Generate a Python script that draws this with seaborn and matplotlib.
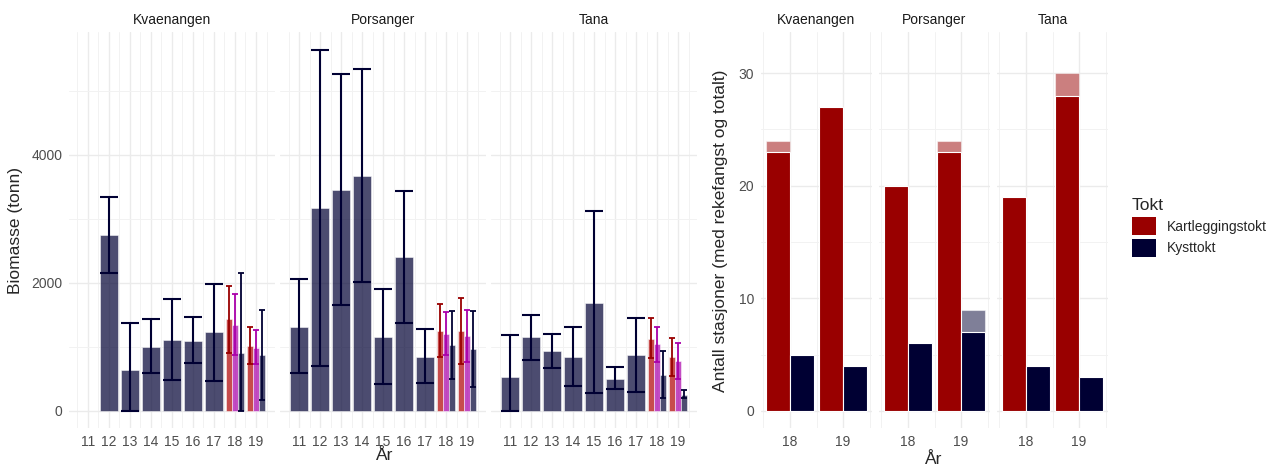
import numpy as np
import pandas as pd
import matplotlib.pyplot as plt
import seaborn as sns
from matplotlib.patches import Patch
from matplotlib.ticker import FixedLocator

sns.set_style("white")
plt.rcParams["font.family"] = ["Liberation Sans", "DejaVu Sans"]

areas = ["Kvaenangen", "Porsanger", "Tana"]
years = [11, 12, 13, 14, 15, 16, 17, 18, 19]

# Biomass, Kysttokt (one row per area, NaN = no survey)
kyst_bio = [[np.nan, 2750, 640, 1000, 1110, 1100, 1230, 910, 870],
            [1320, 3170, 3460, 3670, 1160, 2400, 850, 1030, 970],
            [530, 1150, 940, 850, 1690, 500, 870, 570, 250]]
kyst_lo = [[np.nan, 2150, 0, 590, 480, 750, 470, 0, 170],
           [600, 710, 1660, 2010, 420, 1380, 440, 500, 380],
           [0, 800, 670, 390, 280, 340, 300, 200, 200]]
kyst_hi = [[np.nan, 3350, 1370, 1430, 1750, 1470, 1980, 2160, 1580],
           [2060, 5640, 5270, 5340, 1900, 3440, 1280, 1570, 1570],
           [1180, 1500, 1210, 1320, 3120, 680, 1450, 940, 330]]

# Biomass 2018-2019, Kartleggingstokt (two estimates)
new_years = [18, 19]
kart_bio = [[1430, 1020], [1250, 1250], [1120, 840]]
kart_lo = [[910, 740], [850, 730], [830, 550]]
kart_hi = [[1950, 1310], [1670, 1770], [1450, 1140]]
kart2_bio = [[1340, 990], [1200, 1170], [1040, 780]]
kart2_lo = [[880, 740], [870, 770], [760, 500]]
kart2_hi = [[1830, 1260], [1540, 1580], [1310, 1060]]

# Number of stations (total and with shrimp catch)
kart_total = [[24, 27], [20, 24], [19, 30]]
kart_catch = [[23, 27], [20, 23], [19, 28]]
kyst_total = [[5, 4], [6, 9], [4, 3]]
kyst_catch = [[5, 4], [6, 7], [4, 3]]

RED = "#990000"
MAG = "#AA00AA"
NAVY = "#000033"

rows = []
for i, a in enumerate(areas):
    for j, y in enumerate(years):
        rows.append((a, y, "Kysttokt", kyst_bio[i][j], kyst_lo[i][j], kyst_hi[i][j]))
    for j, y in enumerate(new_years):
        rows.append((a, y, "Kartleggingstokt", kart_bio[i][j], kart_lo[i][j], kart_hi[i][j]))
        rows.append((a, y, "Kartlegging2", kart2_bio[i][j], kart2_lo[i][j], kart2_hi[i][j]))
bio = pd.DataFrame(rows, columns=["area", "year", "tokt", "biomasse", "lo", "hi"]).dropna()

st_rows = []
for i, a in enumerate(areas):
    for j, y in enumerate(new_years):
        st_rows.append((a, y, "Kartleggingstokt", kart_total[i][j], kart_catch[i][j]))
        st_rows.append((a, y, "Kysttokt", kyst_total[i][j], kyst_catch[i][j]))
st = pd.DataFrame(st_rows, columns=["area", "year", "tokt", "total", "catch"])

W, H = 1279, 468
fig = plt.figure(figsize=(W / 100, H / 100), dpi=100)
bot, hgt = 40 / H, 396 / H

hue3 = ["Kartleggingstokt", "Kartlegging2", "Kysttokt"]
pal3 = {"Kartleggingstokt": "#B00000", "Kartlegging2": MAG, "Kysttokt": NAVY}
ecol3 = {"Kartleggingstokt": RED, "Kartlegging2": MAG, "Kysttokt": NAVY}
offs3 = {"Kartleggingstokt": -0.3, "Kartlegging2": 0.0, "Kysttokt": 0.3}


def style_axis(ax, xlim, ylim, xmaj, xmin, ymaj, ymin, show_y):
    ax.set_xlim(*xlim)
    ax.set_ylim(*ylim)
    ax.xaxis.set_major_locator(FixedLocator(xmaj))
    ax.xaxis.set_minor_locator(FixedLocator(xmin))
    ax.yaxis.set_major_locator(FixedLocator(ymaj))
    ax.yaxis.set_minor_locator(FixedLocator(ymin))
    ax.set_xticklabels([str(v) for v in xmaj])
    if not show_y:
        ax.set_yticklabels([])
    ax.grid(which="major", color="#EBEBEB", linewidth=1.0)
    ax.grid(which="minor", color="#F2F2F2", linewidth=0.7)
    ax.set_axisbelow(True)
    for s in ax.spines.values():
        s.set_visible(False)
    ax.tick_params(which="both", length=0, labelsize=10, labelcolor="#4D4D4D", pad=5)
    ax.set_xlabel("")
    ax.set_ylabel("")


# Left: biomass per area
left_px = [69.1, 280.1, 491.1]
for i, a in enumerate(areas):
    ax = fig.add_axes([left_px[i] / W, bot, 205.8 / W, hgt])
    d = bio[bio.area == a]
    old = d[d.year <= 17]
    new = d[d.year >= 18]
    sns.barplot(data=old, x="year", y="biomasse", native_scale=True, width=0.9,
                color=NAVY, alpha=0.7, saturation=1, edgecolor="white",
                linewidth=0.5, errorbar=None, ax=ax)
    sns.barplot(data=new, x="year", y="biomasse", hue="tokt", hue_order=hue3,
                palette=pal3, native_scale=True, width=0.9, dodge=True, alpha=0.7,
                saturation=1, edgecolor="white", linewidth=0.5, errorbar=None,
                legend=False, ax=ax)
    ax.errorbar(old.year, old.biomasse,
                yerr=[old.biomasse - old.lo, old.hi - old.biomasse],
                fmt="none", ecolor=NAVY, elinewidth=1.5, capsize=6.8, capthick=1.5)
    for t in hue3:
        dt = new[new.tokt == t]
        ax.errorbar(dt.year + offs3[t], dt.biomasse,
                    yerr=[dt.biomasse - dt.lo, dt.hi - dt.biomasse],
                    fmt="none", ecolor=ecol3[t], elinewidth=1.3, capsize=2.4,
                    capthick=1.3)
    style_axis(ax, (10.1, 19.9), (-266, 5922), years, np.arange(10.5, 20, 1),
               [0, 2000, 4000], [1000, 3000, 5000], i == 0)
    fig.text((left_px[i] + 102.9) / W, 1 - 20 / H, a, ha="center", va="center",
             fontsize=10, color="#1A1A1A")

# Right: number of stations
right_px = [761.1, 879.1, 997.1]
pal2 = {"Kartleggingstokt": RED, "Kysttokt": NAVY}
for i, a in enumerate(areas):
    ax = fig.add_axes([right_px[i] / W, bot, 110.8 / W, hgt])
    d = st[st.area == a]
    sns.barplot(data=d, x="year", y="total", hue="tokt",
                hue_order=["Kartleggingstokt", "Kysttokt"], palette=pal2,
                native_scale=True, width=0.9, dodge=True, alpha=0.5, saturation=1,
                edgecolor="white", linewidth=0.8, errorbar=None, legend=False, ax=ax)
    sns.barplot(data=d, x="year", y="catch", hue="tokt",
                hue_order=["Kartleggingstokt", "Kysttokt"], palette=pal2,
                native_scale=True, width=0.9, dodge=True, saturation=1,
                edgecolor="white", linewidth=0.8, errorbar=None, legend=False, ax=ax)
    style_axis(ax, (17.455, 19.545), (-1.51, 33.64), new_years, [17.5, 18.5, 19.5],
               [0, 10, 20, 30], [5, 15, 25], i == 0)
    fig.text((right_px[i] + 55.4) / W, 1 - 20 / H, a, ha="center", va="center",
             fontsize=10, color="#1A1A1A")

fig.text(16 / W, 1 - 230 / H, "Biomasse (tonn)", rotation=90, ha="center",
         va="center", fontsize=12.5)
fig.text(721 / W, 1 - 231 / H, "Antall stasjoner (med rekefangst og totalt)",
         rotation=90, ha="center", va="center", fontsize=12.5)
fig.text(385 / W, 1 - 456 / H, "År", ha="center", va="center", fontsize=12.5)
fig.text(934 / W, 1 - 460 / H, "År", ha="center", va="center", fontsize=12.5)

handles = [Patch(facecolor=RED, edgecolor="none"), Patch(facecolor=NAVY, edgecolor="none")]
fig.legend(handles, ["Kartleggingstokt", "Kysttokt"], title="Tokt",
           loc="upper left", bbox_to_anchor=(1119 / W, 1 - 186 / H), frameon=False,
           fontsize=10, title_fontsize=12.5, alignment="left",
           handlelength=1.75, handleheight=1.65, labelspacing=0.25,
           handletextpad=0.8)

plt.savefig("out.png", dpi=100)
